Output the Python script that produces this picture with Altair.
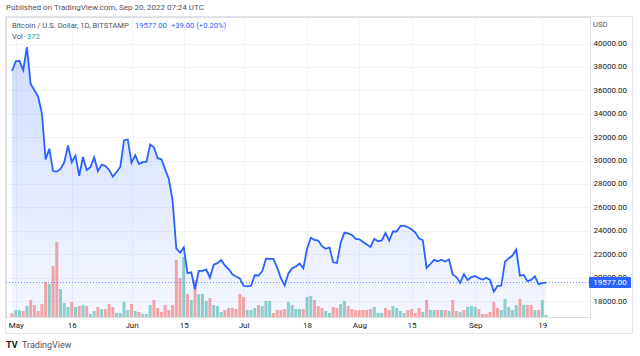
import json
import pandas as pd
import altair as alt

# ---------------- data ----------------
START = "2022-04-30"   # first daily candle shown

CLOSE = [
    37650, 38470, 38520, 37720, 39690, 36550, 36010, 35470, 34060, 30100,
    31010, 29100, 29050, 29280, 29860, 31300, 29860, 30420, 28700, 30300,
    29200, 29430, 30290, 29100, 29650, 29540, 29200, 28630, 29020, 29450,
    31730, 31800, 29800, 30460, 29700, 29860, 29910, 31370, 31130, 30200,
    30110, 29250, 28420, 26580, 22480, 22130, 22580, 20380, 20450, 19000,
    20570, 20580, 20710, 19990, 21100, 21230, 21490, 21040, 20730, 20280,
    20100, 19930, 19300, 19250, 19300, 20200, 20180, 20550, 21620, 21600,
    21600, 20850, 19960, 19330, 20350, 20800, 20950, 21200, 20790, 22470,
    23400, 23230, 23160, 22680, 22460, 22580, 21310, 21250, 22960, 23850,
    23780, 23640, 23300, 23270, 23050, 22820, 22620, 23310, 23100, 23170,
    23810, 23160, 23950, 23940, 24400, 24440, 24300, 24100, 23850, 23340,
    23190, 20830, 21140, 21520, 21400, 21530, 21370, 21560, 20260, 20040,
    19550, 20290, 19800, 20050, 20130, 19950, 19830, 19990, 19800, 18790,
    19290, 19320, 21360, 21650, 21880, 22400, 20170, 20230, 19700, 19800,
    20120, 19420, 19538, 19577,
]

VOLUME = [
    760, 1330, 1330, 1140, 2090, 3230, 2280, 1140, 2470, 6650,
    6270, 9690, 14250, 5320, 2660, 1900, 2850, 1900, 2090, 2280,
    2090, 570, 1140, 1900, 1520, 1520, 2470, 1900, 760, 760,
    2850, 1330, 2470, 1140, 950, 570, 570, 2280, 3230, 1710,
    950, 2280, 1330, 2280, 10830, 7410, 11400, 4370, 3230, 7030,
    4370, 4370, 3040, 3610, 2280, 2090, 950, 1330, 1710, 1710,
    1520, 4370, 3800, 1330, 1330, 1710, 2280, 2090, 3040, 3040,
    760, 1330, 1330, 1520, 2850, 2280, 1520, 1520, 1520, 3800,
    3990, 3230, 2090, 1710, 1140, 760, 1900, 1710, 2470, 3040,
    2090, 1520, 1330, 1330, 1330, 1330, 1520, 1900, 760, 760,
    1710, 1330, 2090, 1710, 1140, 760, 1330, 1520, 760, 1710,
    950, 3230, 1330, 1330, 1330, 1330, 1330, 1140, 3230, 1140,
    950, 1330, 1900, 2090, 1900, 1520, 570, 570, 950, 2850,
    1710, 1330, 3420, 1900, 1330, 2280, 3420, 2280, 2280, 2280,
    1330, 1330, 3230, 372,
]

DIRECTION = (
    "d u u d u d d d d d "
    "u d d u u u d u d u "
    "d u u d u d d d u u "
    "u u d u d u u u d d "
    "d d d d d d u d u d "
    "u u u d u u u d d d "
    "d d d u u u d u u u "
    "d d d d u u u u d u "
    "u d d d u u d d u u "
    "d d d d d d d u u u "
    "d d u u u u d d d d "
    "u d u u d u d u d d "
    "u d u u u d d d d d "
    "d u u u u u d u d d "
    "u d u u"
).split()

PRICE_TICKS = [18000, 20000, 22000, 24000, 26000, 28000, 30000,
               32000, 34000, 36000, 38000, 40000]
TICK_DATES = ["2022-05-01", "2022-05-16", "2022-06-01", "2022-06-15", "2022-07-01",
              "2022-07-18", "2022-08-01", "2022-08-15", "2022-09-01", "2022-09-19"]
TICK_LABELS = ["May", "16", "Jun", "15", "Jul", "18", "Aug", "15", "Sep", "19"]

LAST_PRICE = 19577.00
CHANGE_TEXT = "+39.00 (+0.20%)"
LAST_VOL = "372"

# ---------------- layout ----------------
W, H = 584, 300
PRICE_DOMAIN = [16634, 42264]
VOL_DOMAIN = [0, 57000]
DAY_MS = 86400000


def ms(d):
    return int(pd.Timestamp(d, tz="UTC").timestamp() * 1000)


X_DOMAIN = [ms(START) - 0.263 * DAY_MS, ms(START) + 153.42 * DAY_MS]
tick_ms = [ms(d) for d in TICK_DATES]

dates = pd.date_range(START, periods=len(CLOSE), freq="D").strftime("%Y-%m-%d")
df = pd.DataFrame({"date": list(dates), "close": CLOSE, "volume": VOLUME,
                   "dir": ["up" if d == "u" else "down" for d in DIRECTION]})

FONT = "Roboto"
TXT = "#131722"
GREY = "#50535e"
BLUE = "#2962ff"
GRID = "#f0f3fa"

label_expr = (f"{json.dumps(TICK_LABELS)}"
              f"[indexof({json.dumps(tick_ms)}, toNumber(datum.value))]")

x_axis = alt.Axis(values=tick_ms, labelExpr=label_expr, grid=True, gridColor=GRID,
                  domain=False, ticks=False, labelPadding=4, labelColor=TXT,
                  labelFontSize=8, labelFont=FONT, title=None, labelFlush=False)
x_scale = alt.Scale(type="utc", domain=X_DOMAIN)
X = alt.X("date:T", scale=x_scale, axis=x_axis)

price_scale = alt.Scale(domain=PRICE_DOMAIN, zero=False, nice=False)
price_axis = alt.Axis(orient="right", values=PRICE_TICKS, format=".2f", grid=True,
                      gridColor=GRID, domain=False, ticks=False, labelPadding=3,
                      labelAlign="left", title=None, labelFontSize=8, labelFont=FONT,
                      labelColor=TXT)

base = alt.Chart(df)

area = base.mark_area(
    color=alt.Gradient(gradient="linear", x1=1, x2=1, y1=1, y2=0,
                       stops=[alt.GradientStop(offset=0, color="rgba(41,98,255,0.05)"),
                              alt.GradientStop(offset=1, color="rgba(41,98,255,0.22)")]),
).encode(
    x=X,
    y=alt.Y("close:Q", scale=price_scale, axis=price_axis),
    y2=alt.datum(PRICE_DOMAIN[0]),
)

bars = base.mark_bar(width=3, opacity=0.5).encode(
    x=X,
    y=alt.Y("volume:Q", scale=alt.Scale(domain=VOL_DOMAIN), axis=None),
    color=alt.Color("dir:N", scale=alt.Scale(domain=["up", "down"],
                                             range=["#26a69a", "#ef5350"]), legend=None),
)

line = base.mark_line(color=BLUE, strokeWidth=1.8).encode(
    x=X,
    y=alt.Y("close:Q", scale=price_scale, axis=None),
)

last_rule = alt.Chart(pd.DataFrame({"p": [LAST_PRICE]})).mark_rule(
    color=BLUE, strokeDash=[1, 2], strokeWidth=1, opacity=0.7
).encode(
    y=alt.Y("p:Q", scale=price_scale, axis=None),
    x=alt.value(0), x2=alt.value(W),
)

# pixel position of the last price on the price scale
y_last = H * (PRICE_DOMAIN[1] - LAST_PRICE) / (PRICE_DOMAIN[1] - PRICE_DOMAIN[0])

one = pd.DataFrame({"a": [0]})

price_box = alt.Chart(one).mark_rect(color=BLUE, cornerRadius=1).encode(
    x=alt.value(583), x2=alt.value(625), y=alt.value(y_last - 5.5), y2=alt.value(y_last + 5.5))

frame = alt.Chart(one).mark_rect(fillOpacity=0, stroke="#e0e3eb", strokeWidth=1).encode(
    x=alt.value(-0.5), x2=alt.value(626.5), y=alt.value(-0.5), y2=alt.value(316.5))


def label(text, x, y, color=TXT, size=8, weight="normal", align="left"):
    return alt.Chart(one).mark_text(
        text=text, align=align, baseline="middle", font=FONT, fontSize=size,
        fontWeight=weight, color=color
    ).encode(x=alt.value(x), y=alt.value(y))


texts = [
    label("Published on TradingView.com, Sep 20, 2022 07:24 UTC", 0, -9, GREY),
    label("Bitcoin / U.S. Dollar, 1D, BITSTAMP", 6, 9, GREY, size=7.6),
    label(f"{LAST_PRICE:.2f}", 129, 9, BLUE, size=7.6),
    label(CHANGE_TEXT, 165, 9, BLUE, size=7.6),
    label("Vol", 6, 20, GREY, size=7.6),
    label(LAST_VOL, 21, 20, "#26a69a", size=7.6),
    label("USD", 587, 8, GREY, size=7.6),
    label(f"{LAST_PRICE:.2f}", 604, y_last, "#ffffff", align="center"),
    label("TV", 0, 328, TXT, size=9, weight="bold"),
    label("TradingView", 16, 328, GREY, size=9),
]

chart = alt.layer(
    area, bars, line, last_rule, frame, price_box, *texts
).resolve_scale(
    y="independent"
).properties(
    width=W, height=H,
    padding={"left": 6, "top": 17, "right": 50, "bottom": 39},
    autosize=alt.AutoSizeParams(type="none"),
).configure_view(
    strokeWidth=0
).configure(
    font=FONT, background="white"
)

chart.save("out.html", embed_options={"renderer": "svg", "actions": False})
